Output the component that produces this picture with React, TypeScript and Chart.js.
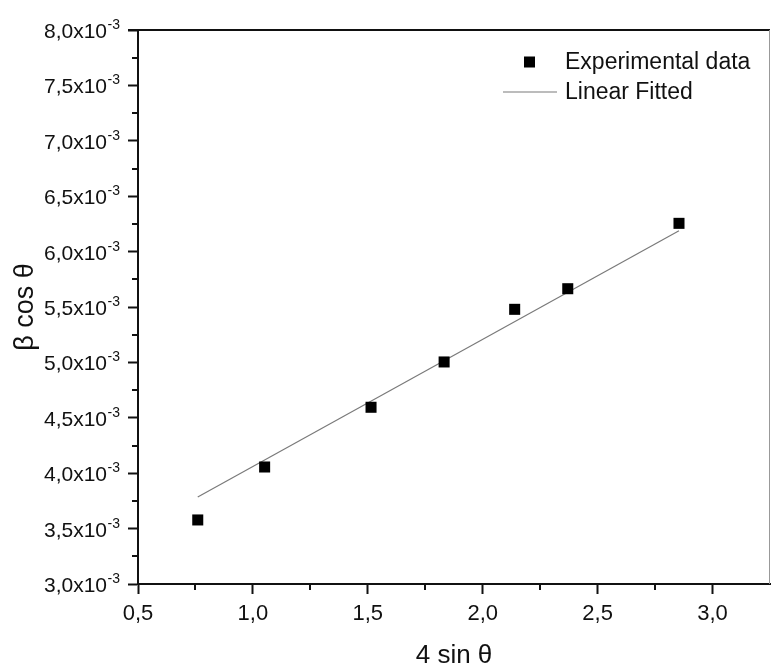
import React, { useEffect, useRef } from 'react';
import { Chart, registerables } from 'chart.js';

Chart.register(...registerables);

// ---- data ----
const sinTheta4 = [0.76, 1.051, 1.514, 1.832, 2.139, 2.37, 2.854];
const betaCosTheta = [0.003578, 0.004056, 0.004595, 0.005004, 0.005479, 0.005665, 0.006255];
const fitX = [0.76, 2.854];
const fitY = [0.003785, 0.006189];
const seriesLabels = ['Experimental data', 'Linear Fitted'];
const xTitle = '4 sin θ';
const yTitle = 'β cos θ';
const xRange = [0.5, 3.25];
const yRange = [0.003, 0.008];
const xTickValues = [0.5, 1.0, 1.5, 2.0, 2.5, 3.0];
const yTickValues = [0.003, 0.0035, 0.004, 0.0045, 0.005, 0.0055, 0.006, 0.0065, 0.007, 0.0075, 0.008];
const yTickExponent = '-3';

const FONT = '"Liberation Sans", Arial, Helvetica, sans-serif';

const fmtX = (v: number) => v.toFixed(1).replace('.', ',');
const fmtYBase = (v: number) => (v * 1000).toFixed(1).replace('.', ',') + 'x10';

const framePlugin = {
  id: 'frame',
  afterDraw(chart: any) {
    const { ctx, chartArea: a, scales } = chart;
    const xs = scales.x;
    const ys = scales.y;
    ctx.save();
    // top border
    ctx.strokeStyle = '#111';
    ctx.lineWidth = 2;
    ctx.beginPath();
    ctx.moveTo(a.left - 10, a.top);
    ctx.lineTo(a.right, a.top);
    ctx.stroke();
    // right border
    ctx.strokeStyle = '#999';
    ctx.lineWidth = 1;
    ctx.beginPath();
    ctx.moveTo(a.right - 0.5, a.top);
    ctx.lineTo(a.right - 0.5, a.bottom);
    ctx.stroke();

    // minor ticks
    ctx.strokeStyle = '#111';
    ctx.lineWidth = 2;
    const xt = xs.ticks;
    for (let i = 0; i < xt.length - 1; i++) {
      const px = Math.round(xs.getPixelForValue((xt[i].value + xt[i + 1].value) / 2));
      ctx.beginPath();
      ctx.moveTo(px, a.bottom);
      ctx.lineTo(px, a.bottom + 6);
      ctx.stroke();
    }
    const yt = ys.ticks;
    for (let i = 0; i < yt.length - 1; i++) {
      const py = Math.round(ys.getPixelForValue((yt[i].value + yt[i + 1].value) / 2));
      ctx.beginPath();
      ctx.moveTo(a.left - 6, py);
      ctx.lineTo(a.left, py);
      ctx.stroke();
    }

    // y tick labels with superscript exponent
    ctx.fillStyle = '#111';
    ctx.textBaseline = 'alphabetic';
    const rightEdge = a.left - 18;
    for (const t of yt) {
      const py = ys.getPixelForValue(t.value);
      ctx.font = `14px ${FONT}`;
      ctx.textAlign = 'right';
      const supW = ctx.measureText(yTickExponent).width;
      ctx.fillText(yTickExponent, rightEdge, py - 1);
      ctx.font = `21px ${FONT}`;
      ctx.fillText(fmtYBase(t.value), rightEdge - supW - 0.5, py + 8);
    }

    // legend
    const ds = chart.data.datasets;
    ctx.font = `23px ${FONT}`;
    ctx.textAlign = 'left';
    ctx.textBaseline = 'middle';
    const textX = a.right - 205;
    const row1 = a.top + 32;
    const row2 = a.top + 62;
    ctx.fillStyle = ds[0].backgroundColor;
    ctx.fillRect(a.right - 246, row1 - 5.5, 11, 11);
    ctx.fillStyle = '#111';
    ctx.fillText(ds[0].label, textX, row1 + 1);
    ctx.strokeStyle = ds[1].borderColor;
    ctx.lineWidth = 1.2;
    ctx.beginPath();
    ctx.moveTo(a.right - 267, row2);
    ctx.lineTo(a.right - 213, row2);
    ctx.stroke();
    ctx.fillText(ds[1].label, textX, row2 + 1);
    ctx.restore();
  },
};

export default function App() {
  const ref = useRef<HTMLCanvasElement | null>(null);

  useEffect(() => {
    document.body.style.margin = '0';
    const canvas = ref.current;
    if (!canvas) return;
    const chart = new Chart(canvas, {
      type: 'scatter',
      data: {
        datasets: [
          {
            type: 'scatter',
            label: seriesLabels[0],
            data: sinTheta4.map((x, i) => ({ x, y: betaCosTheta[i] })),
            pointStyle: 'rect',
            pointRadius: 7.8,
            pointHoverRadius: 7.8,
            backgroundColor: '#000',
            borderColor: '#000',
            borderWidth: 0,
            order: 0,
          },
          {
            type: 'line',
            label: seriesLabels[1],
            data: fitX.map((x, i) => ({ x, y: fitY[i] })),
            borderColor: '#7a7a7a',
            borderWidth: 1.2,
            pointRadius: 0,
            fill: false,
            order: 1,
          } as any,
        ],
      },
      options: {
        animation: false,
        responsive: false,
        devicePixelRatio: 1,
        layout: { autoPadding: false, padding: { top: 30, right: 1, left: 0, bottom: 0 } },
        plugins: {
          legend: { display: false },
          tooltip: { enabled: false },
        },
        scales: {
          x: {
            type: 'linear',
            min: xRange[0],
            max: xRange[1],
            afterBuildTicks: (s: any) => {
              s.ticks = xTickValues.map((value) => ({ value }));
            },
            afterFit: (s: any) => {
              s.height = 85;
              s.paddingLeft = 0;
              s.paddingRight = 0;
            },
            ticks: {
              callback: (v: any) => fmtX(Number(v)),
              color: '#111',
              font: { family: FONT, size: 22 },
              padding: 7,
              maxRotation: 0,
              autoSkip: false,
            },
            grid: {
              drawOnChartArea: false,
              drawTicks: true,
              tickLength: 10,
              tickColor: '#111',
              tickWidth: 2,
            },
            border: { display: true, color: '#111', width: 2 },
            title: {
              display: true,
              text: xTitle,
              color: '#111',
              font: { family: FONT, size: 26, lineHeight: 1 },
              padding: { top: 0, bottom: 0 },
            },
          },
          y: {
            type: 'linear',
            min: yRange[0],
            max: yRange[1],
            afterBuildTicks: (s: any) => {
              s.ticks = yTickValues.map((value) => ({ value }));
            },
            afterFit: (s: any) => {
              s.width = 138;
              s.paddingTop = 0;
              s.paddingBottom = 0;
            },
            ticks: {
              display: false,
            },
            grid: {
              drawOnChartArea: false,
              drawTicks: true,
              tickLength: 10,
              tickColor: '#111',
              tickWidth: 2,
            },
            border: { display: true, color: '#111', width: 2 },
            title: {
              display: true,
              text: yTitle,
              color: '#111',
              font: { family: FONT, size: 27, lineHeight: 1 },
              padding: { top: 12, bottom: 0 },
            },
          },
        },
      },
      plugins: [framePlugin],
    });
    return () => chart.destroy();
  }, []);

  return (
    <div style={{ width: 771, height: 669 }}>
      <canvas ref={ref} width={771} height={669} style={{ display: 'block' }} />
    </div>
  );
}
